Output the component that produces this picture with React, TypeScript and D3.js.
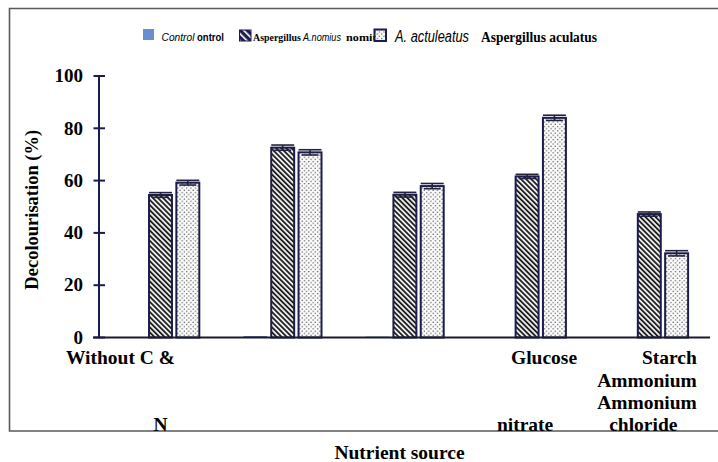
import React from 'react';
import * as d3 from 'd3';

const categories = ['Without C & N', 'Glucose', 'Starch', 'Ammonium nitrate', 'Ammonium chloride'];
const xTickLabelLines = [['Without C &', 'N'], [], [], ['Glucose', 'nitrate'], ['Starch', 'Ammonium', 'Ammonium', 'chloride']];
const seriesKeys = ['control', 'nomius', 'aculeatus'];
const controlValues = [0, 0.4, 0.2, 0, 0];
const nomiusValues = [54.5, 72.6, 54.6, 61.6, 47.2];
const aculeatusValues = [59.2, 70.8, 57.9, 84.0, 32.2];
const controlErrors = [0, 0, 0, 0, 0];
const nomiusErrors = [0.9, 1.0, 0.9, 0.8, 0.8];
const aculeatusErrors = [0.9, 1.0, 1.0, 1.0, 1.0];
const yTicks = [0, 20, 40, 60, 80, 100];
const yLabel = 'Decolourisation (%)';
const xLabel = 'Nutrient source';
const legendTexts = [
  ['Control', 'ontrol'],
  ['Aspergillus', 'A.nomius', 'nomius'],
  ['A. actuleatus', 'Aspergillus aculatus'],
];

const W = 718;
const H = 462;
const NAVY = '#1b1b4d';
const SERIF = '"Liberation Serif", "Times New Roman", serif';
const SANS = '"Liberation Sans", Arial, sans-serif';

// label layout: for each line, [anchor, dx from band centre, row]
const labelLayout: Array<Array<[string, number, number]>> = [
  [['end', 14.5, 0], ['middle', 0, 3]],
  [],
  [],
  [['end', 50, 0], ['middle', -2, 3]],
  [['end', 47.5, 0], ['end', 47.5, 1], ['end', 47.5, 2], ['middle', -6, 3]],
];
const rowY = [364, 386.5, 408.5, 431];

// legend text styling: [x, baseline, length, family, style, weight, size]
const legendStyle: Array<Array<[number, number, number, string, string, string, number]>> = [
  [[161.5, 41, 33, SANS, 'italic', 'normal', 11], [197, 41, 27, SANS, 'normal', 'bold', 11]],
  [[253, 41, 48, SERIF, 'normal', 'bold', 11], [303, 41, 38, SANS, 'italic', 'normal', 11], [346, 41, 38, SERIF, 'normal', 'bold', 11]],
  [[395, 42, 74, SANS, 'italic', 'normal', 16], [481, 42, 116, SERIF, 'normal', 'bold', 14]],
];

export default function App() {
  const x = d3.scaleBand<number>()
    .domain(d3.range(categories.length))
    .range([99.4, 710.4])
    .paddingInner(0.365)
    .paddingOuter(0.1825);
  const xs = d3.scaleBand<string>()
    .domain(seriesKeys)
    .range([0, x.bandwidth()])
    .paddingInner(0.16)
    .paddingOuter(0);
  const y = d3.scaleLinear().domain([0, 100]).range([337.5, 76]);

  const series = [
    { key: 'control', values: controlValues, errors: controlErrors, fill: '#4f7fc0' },
    { key: 'nomius', values: nomiusValues, errors: nomiusErrors, fill: 'url(#hatch)' },
    { key: 'aculeatus', values: aculeatusValues, errors: aculeatusErrors, fill: 'url(#dots)' },
  ];

  return (
    <svg width={W} height={H} style={{ position: 'absolute', left: 0, top: 0, background: '#fff' }}>
      <defs>
        <pattern id="hatch" patternUnits="userSpaceOnUse" width={3.6} height={3.6} patternTransform="rotate(-45)">
          <rect width={3.6} height={3.6} fill="#ececec" />
          <rect width={1.7} height={3.6} fill="#161616" />
        </pattern>
        <pattern id="dots" patternUnits="userSpaceOnUse" width={4.4} height={4.4}>
          <rect width={4.4} height={4.4} fill="#fcfcfc" />
          <circle cx={1.1} cy={1.1} r={0.7} fill="#4a4a4a" />
          <circle cx={3.3} cy={3.3} r={0.7} fill="#4a4a4a" />
        </pattern>
        <pattern id="hatchLegend" patternUnits="userSpaceOnUse" width={5} height={5} patternTransform="rotate(-45)">
          <rect width={5} height={5} fill="#1b1b4d" />
          <rect width={1.6} height={5} fill="#ffffff" />
        </pattern>
      </defs>

      {/* frame */}
      <path d={`M${W + 2},8.5 H9.5 V431 H${W + 2}`} fill="none" stroke="#5a5a5a" strokeWidth={1.6} />

      {/* legend */}
      <g>
        <rect x={143} y={29} width={11} height={11} fill="#6a8fd0" />
        <rect x={239.5} y={30} width={11.5} height={11} fill="url(#hatchLegend)" stroke={NAVY} strokeWidth={1} />
        {legendTexts.map((parts, i) =>
          parts.map((p, j) => {
            const [lx, ly, len, fam, fs, fw, size] = legendStyle[i][j];
            return (
              <text
                key={`${i}-${j}`}
                x={lx}
                y={ly}
                fontFamily={fam}
                fontStyle={fs}
                fontWeight={fw}
                fontSize={size}
                textLength={len}
                lengthAdjust="spacingAndGlyphs"
              >
                {p}
              </text>
            );
          })
        )}
        <rect x={374.5} y={29.5} width={11.5} height={11.5} fill="url(#dots)" stroke={NAVY} strokeWidth={2} />
      </g>

      {/* bars */}
      {categories.map((c, i) => (
        <g key={c} transform={`translate(${x(i)},0)`}>
          {series.map((s) => {
            const v = s.values[i];
            const bx = xs(s.key)!;
            const bw = xs.bandwidth();
            const top = y(v);
            const h = y(0) - top;
            const isCtrl = s.key === 'control';
            return (
              <g key={s.key}>
                <rect
                  x={bx}
                  y={top}
                  width={bw}
                  height={Math.max(h, 0)}
                  fill={s.fill}
                  stroke={isCtrl ? '#3d5f8f' : NAVY}
                  strokeWidth={isCtrl ? 0.6 : 2}
                />
                {s.errors[i] > 0 && (
                  <g stroke="#22223a" strokeWidth={1.6}>
                    <line x1={bx + bw / 2} x2={bx + bw / 2} y1={y(v - s.errors[i])} y2={y(v + s.errors[i])} />
                    <line x1={bx} x2={bx + bw} y1={y(v + s.errors[i])} y2={y(v + s.errors[i])} />
                    <line x1={bx + 3} x2={bx + bw - 3} y1={y(v - s.errors[i])} y2={y(v - s.errors[i])} />
                  </g>
                )}
              </g>
            );
          })}
        </g>
      ))}

      {/* x axis line */}
      <line x1={93} x2={710} y1={y(0)} y2={y(0)} stroke="#1a1a2a" strokeWidth={2} />

      {/* y axis */}
      <line x1={99} x2={99} y1={y(100)} y2={y(0)} stroke={NAVY} strokeWidth={2} />
      {yTicks.map((t) => (
        <g key={t}>
          <line x1={93.5} x2={105} y1={y(t)} y2={y(t)} stroke={NAVY} strokeWidth={2} />
          <text x={83} y={y(t)} dy="0.33em" textAnchor="end" fontFamily={SERIF} fontWeight="bold" fontSize={19}>
            {t}
          </text>
        </g>
      ))}

      {/* x tick labels */}
      {xTickLabelLines.map((lines, i) =>
        lines.map((ln, j) => {
          const [anchor, dx, row] = labelLayout[i][j];
          const cx = x(i)! + x.bandwidth() / 2;
          return (
            <text
              key={`${i}-${j}`}
              x={cx + dx}
              y={rowY[row]}
              textAnchor={anchor as any}
              fontFamily={SERIF}
              fontWeight="bold"
              fontSize={19.5}
            >
              {ln}
            </text>
          );
        })
      )}

      {/* axis titles */}
      <text
        transform={`translate(38,${(y(0) + y(100)) / 2 + 3}) rotate(-90)`}
        textAnchor="middle"
        fontFamily={SERIF}
        fontWeight="bold"
        fontSize={18.5}
      >
        {yLabel}
      </text>
      <text x={399.5} y={459} textAnchor="middle" fontFamily={SERIF} fontWeight="bold" fontSize={19.5}>
        {xLabel}
      </text>
    </svg>
  );
}
